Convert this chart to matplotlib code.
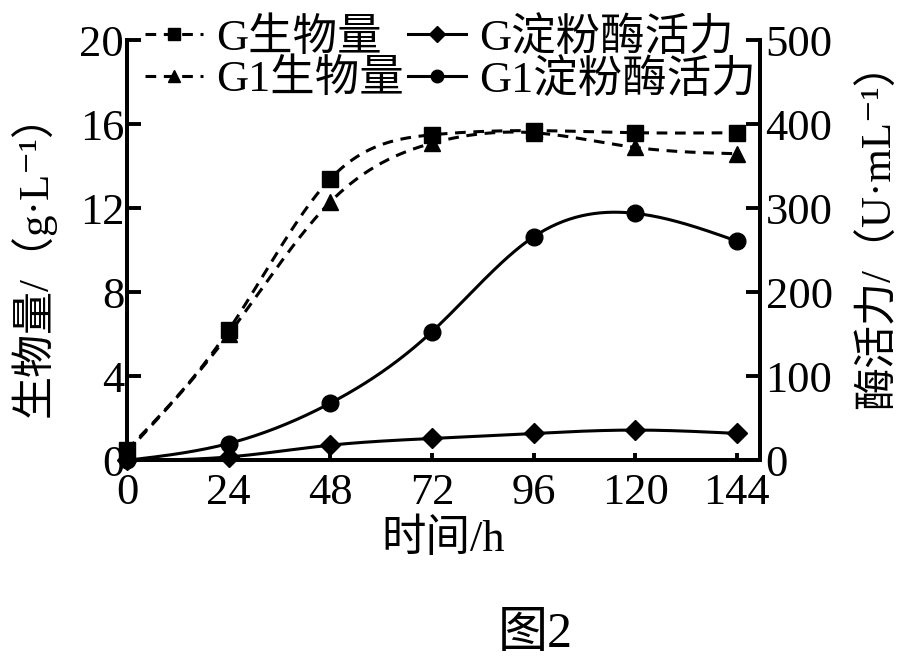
import numpy as np
import matplotlib
matplotlib.use("Agg")
import matplotlib.pyplot as plt
from matplotlib.lines import Line2D

plt.rcParams['font.family'] = ['Liberation Serif', 'Noto Sans CJK SC', 'DejaVu Serif']

hours = [0, 24, 48, 72, 96, 120, 144]
g_biomass = [0.5, 6.2, 13.4, 15.5, 15.7, 15.6, 15.6]
g1_biomass = [0.4, 6.0, 12.3, 15.1, 15.6, 14.9, 14.6]
g_amylase = [0, 4, 18, 26, 32, 36, 32]
g1_amylase = [0, 20, 68, 153, 266, 294, 261]

labels = ["G生物量", "G1生物量", "G淀粉酶活力", "G1淀粉酶活力"]


def spline(x, y, n=300):
    # natural cubic spline, only for drawing the smooth curve
    x = np.asarray(x, float)
    y = np.asarray(y, float)
    h = np.diff(x)
    m = len(x)
    A = np.zeros((m, m))
    b = np.zeros(m)
    A[0, 0] = A[-1, -1] = 1
    for i in range(1, m - 1):
        A[i, i - 1] = h[i - 1]
        A[i, i] = 2 * (h[i - 1] + h[i])
        A[i, i + 1] = h[i]
        b[i] = 3 * ((y[i + 1] - y[i]) / h[i] - (y[i] - y[i - 1]) / h[i - 1])
    c = np.linalg.solve(A, b)
    xs = np.linspace(x[0], x[-1], n)
    idx = np.clip(np.searchsorted(x, xs) - 1, 0, m - 2)
    dx = xs - x[idx]
    bc = (y[1:] - y[:-1]) / h - h * (2 * c[:-1] + c[1:]) / 3
    d = (c[1:] - c[:-1]) / (3 * h)
    return xs, y[idx] + bc[idx] * dx + c[idx] * dx ** 2 + d[idx] * dx ** 3


fig = plt.figure(figsize=(9.07, 6.72), dpi=100)
ax = fig.add_axes([0.140, 0.315, 0.698, 0.625])
ax2 = ax.twinx()

lw = 2.2
dash = (0, (3.5, 2.5))
ax.plot(*spline(hours, g_biomass), color='k', lw=lw, linestyle=dash, clip_on=False)
ax.plot(*spline(hours, g1_biomass), color='k', lw=lw, linestyle=dash, clip_on=False)
ax.plot(hours, g_biomass, 's', color='k', ms=11, clip_on=False, zorder=5)
ax.plot(hours, g1_biomass, '^', color='k', ms=11, clip_on=False, zorder=5)

ax2.plot(*spline(hours, g_amylase), color='k', lw=lw, clip_on=False)
ax2.plot(*spline(hours, g1_amylase), color='k', lw=lw, clip_on=False)
ax2.plot(hours, g_amylase, 'D', color='k', ms=10, clip_on=False, zorder=5)
ax2.plot(hours, g1_amylase, 'o', color='k', ms=12, clip_on=False, zorder=5)

ax.set_xlim(0, 149.5)
ax.set_ylim(0, 20)
ax2.set_ylim(0, 500)
ax.set_xticks(hours)
ax.set_yticks([0, 4, 8, 12, 16, 20])
ax2.set_yticks([0, 100, 200, 300, 400, 500])

for a in (ax, ax2):
    for s in a.spines.values():
        s.set_linewidth(2.8)
    a.spines['top'].set_visible(False)
    a.tick_params(direction='in', width=2.8, labelsize=32)
ax.tick_params(axis='y', length=10, pad=2)
ax.tick_params(axis='x', length=5, pad=9)
ax2.tick_params(axis='y', length=10, pad=4)

ax.set_xlabel("时间/h", fontsize=32, labelpad=4)
ax.set_ylabel("生物量/（g·L⁻¹）", fontsize=31)
ax.yaxis.set_label_coords(-0.112, 0.49)
ax2.set_ylabel("酶活力/（U·mL⁻¹）", fontsize=31)
ax2.yaxis.set_label_coords(1.155, 0.56)

handles = [
    Line2D([], [], color='k', lw=lw, linestyle=dash, marker='s', ms=9),
    Line2D([], [], color='k', lw=lw, linestyle=dash, marker='^', ms=9),
    Line2D([], [], color='k', lw=lw, marker='D', ms=8),
    Line2D([], [], color='k', lw=lw, marker='o', ms=9),
]
fig.legend(handles, labels, loc='upper left', bbox_to_anchor=(0.16, 0.975),
           ncol=2, frameon=False, fontsize=32, handlelength=1.3,
           handletextpad=0.3, columnspacing=0.1, labelspacing=0.0,
           borderaxespad=0.0, borderpad=0.0)

fig.text(0.59, 0.055, "图2", fontsize=36, ha='center', va='center')

fig.savefig("out.png", dpi=100)
